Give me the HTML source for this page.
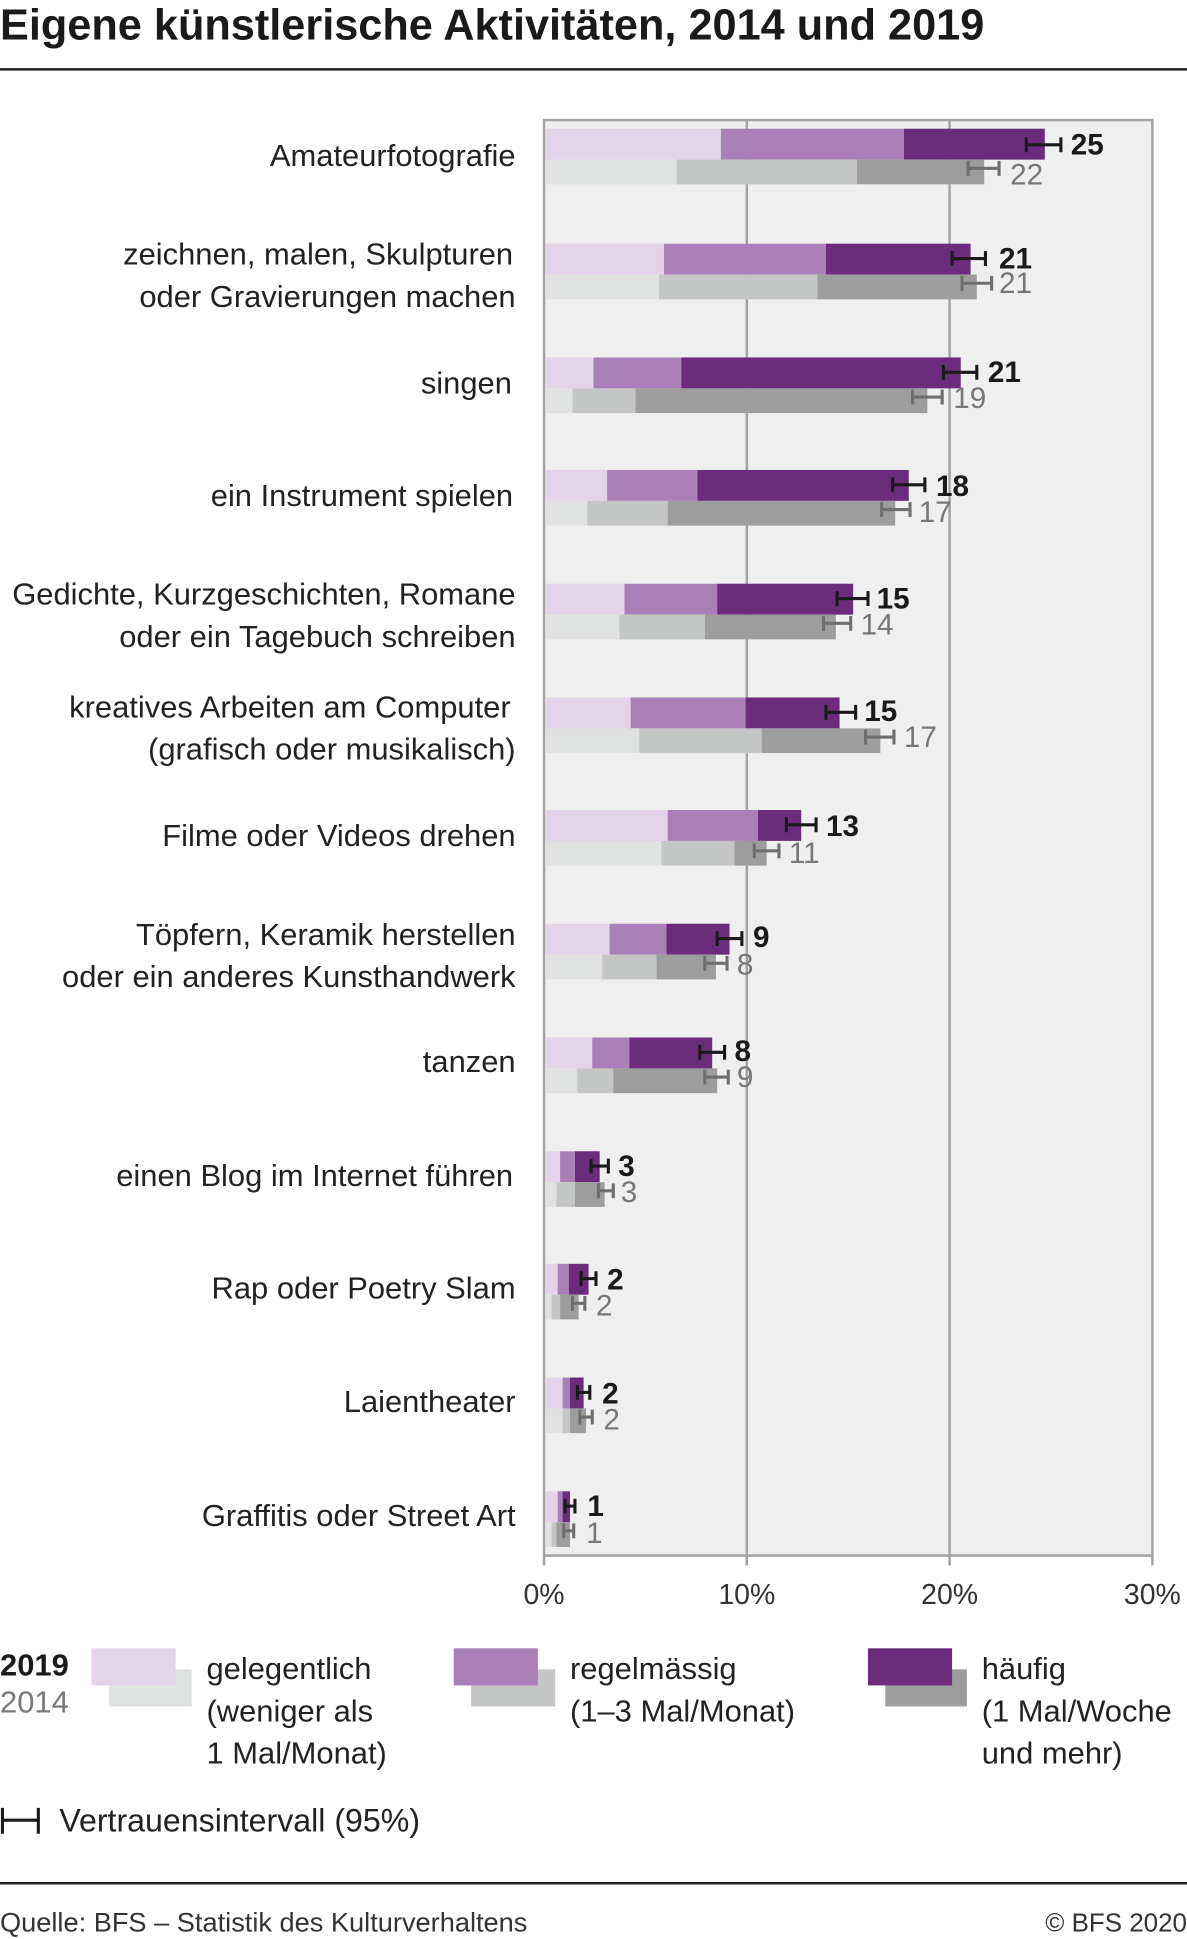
<!DOCTYPE html>
<html><head><meta charset="utf-8"><style>
html,body{margin:0;padding:0;background:#fff}
svg{display:block}
text{font-family:"Liberation Sans",sans-serif}
.lb{font-size:25px;fill:#222;text-anchor:end}
.v9{font-size:24px;font-weight:bold;fill:#1a1a1a}
.v4{font-size:24px;fill:#777}
.ax{font-size:23px;fill:#333;text-anchor:middle}
.lg{font-size:25px;fill:#222}
</style></head><body>
<svg width="1187" height="1939" viewBox="0 0 960 1568" xmlns="http://www.w3.org/2000/svg">
<text x="0" y="32" font-size="35" font-weight="bold" fill="#1a1a1a">Eigene künstlerische Aktivitäten, 2014 und 2019</text>
<rect x="0" y="55" width="960" height="2" fill="#222"/>
<rect x="440" y="97" width="492" height="1161" fill="#efefef" stroke="#a3a3a3" stroke-width="2"/>
<g stroke="#a3a3a3" stroke-width="2"><line x1="604" y1="97" x2="604" y2="1266"/><line x1="768" y1="97" x2="768" y2="1266"/><line x1="440" y1="1258" x2="440" y2="1266"/><line x1="932" y1="1258" x2="932" y2="1266"/></g>
<text class="ax" x="440" y="1297">0%</text><text class="ax" x="604" y="1297">10%</text><text class="ax" x="768" y="1297">20%</text><text class="ax" x="932" y="1297">30%</text>

<g id="bars">
<rect x="441" y="104" width="142" height="25" fill="#e2d3e8"/><rect x="583" y="104" width="148" height="25" fill="#aa7fb7"/><rect x="731" y="104" width="114" height="25" fill="#6b2c7c"/>
<rect x="441" y="129" width="106" height="20" fill="#e0e1e1"/><rect x="547" y="129" width="146" height="20" fill="#c4c5c5"/><rect x="693" y="129" width="103" height="20" fill="#9d9d9d"/>
<rect x="441" y="197" width="96" height="25" fill="#e2d3e8"/><rect x="537" y="197" width="131" height="25" fill="#aa7fb7"/><rect x="668" y="197" width="117" height="25" fill="#6b2c7c"/>
<rect x="441" y="222" width="92" height="20" fill="#e0e1e1"/><rect x="533" y="222" width="128" height="20" fill="#c4c5c5"/><rect x="661" y="222" width="129" height="20" fill="#9d9d9d"/>
<rect x="441" y="289" width="39" height="25" fill="#e2d3e8"/><rect x="480" y="289" width="71" height="25" fill="#aa7fb7"/><rect x="551" y="289" width="226" height="25" fill="#6b2c7c"/>
<rect x="441" y="314" width="22" height="20" fill="#e0e1e1"/><rect x="463" y="314" width="51" height="20" fill="#c4c5c5"/><rect x="514" y="314" width="236" height="20" fill="#9d9d9d"/>
<rect x="441" y="380" width="50" height="25" fill="#e2d3e8"/><rect x="491" y="380" width="73" height="25" fill="#aa7fb7"/><rect x="564" y="380" width="171" height="25" fill="#6b2c7c"/>
<rect x="441" y="405" width="34" height="20" fill="#e0e1e1"/><rect x="475" y="405" width="65" height="20" fill="#c4c5c5"/><rect x="540" y="405" width="184" height="20" fill="#9d9d9d"/>
<rect x="441" y="472" width="64" height="25" fill="#e2d3e8"/><rect x="505" y="472" width="75" height="25" fill="#aa7fb7"/><rect x="580" y="472" width="110" height="25" fill="#6b2c7c"/>
<rect x="441" y="497" width="60" height="20" fill="#e0e1e1"/><rect x="501" y="497" width="69" height="20" fill="#c4c5c5"/><rect x="570" y="497" width="106" height="20" fill="#9d9d9d"/>
<rect x="441" y="564" width="69" height="25" fill="#e2d3e8"/><rect x="510" y="564" width="93" height="25" fill="#aa7fb7"/><rect x="603" y="564" width="76" height="25" fill="#6b2c7c"/>
<rect x="441" y="589" width="76" height="20" fill="#e0e1e1"/><rect x="517" y="589" width="99" height="20" fill="#c4c5c5"/><rect x="616" y="589" width="96" height="20" fill="#9d9d9d"/>
<rect x="441" y="655" width="99" height="25" fill="#e2d3e8"/><rect x="540" y="655" width="73" height="25" fill="#aa7fb7"/><rect x="613" y="655" width="35" height="25" fill="#6b2c7c"/>
<rect x="441" y="680" width="94" height="20" fill="#e0e1e1"/><rect x="535" y="680" width="59" height="20" fill="#c4c5c5"/><rect x="594" y="680" width="26" height="20" fill="#9d9d9d"/>
<rect x="441" y="747" width="52" height="25" fill="#e2d3e8"/><rect x="493" y="747" width="46" height="25" fill="#aa7fb7"/><rect x="539" y="747" width="51" height="25" fill="#6b2c7c"/>
<rect x="441" y="772" width="46" height="20" fill="#e0e1e1"/><rect x="487" y="772" width="44" height="20" fill="#c4c5c5"/><rect x="531" y="772" width="48" height="20" fill="#9d9d9d"/>
<rect x="441" y="839" width="38" height="25" fill="#e2d3e8"/><rect x="479" y="839" width="30" height="25" fill="#aa7fb7"/><rect x="509" y="839" width="67" height="25" fill="#6b2c7c"/>
<rect x="441" y="864" width="26" height="20" fill="#e0e1e1"/><rect x="467" y="864" width="29" height="20" fill="#c4c5c5"/><rect x="496" y="864" width="84" height="20" fill="#9d9d9d"/>
<rect x="441" y="931" width="12" height="25" fill="#e2d3e8"/><rect x="453" y="931" width="12" height="25" fill="#aa7fb7"/><rect x="465" y="931" width="20" height="25" fill="#6b2c7c"/>
<rect x="441" y="956" width="9" height="20" fill="#e0e1e1"/><rect x="450" y="956" width="15" height="20" fill="#c4c5c5"/><rect x="465" y="956" width="24" height="20" fill="#9d9d9d"/>
<rect x="441" y="1022" width="10" height="25" fill="#e2d3e8"/><rect x="451" y="1022" width="9" height="25" fill="#aa7fb7"/><rect x="460" y="1022" width="16" height="25" fill="#6b2c7c"/>
<rect x="441" y="1047" width="5" height="20" fill="#e0e1e1"/><rect x="446" y="1047" width="7" height="20" fill="#c4c5c5"/><rect x="453" y="1047" width="15" height="20" fill="#9d9d9d"/>
<rect x="441" y="1114" width="14" height="25" fill="#e2d3e8"/><rect x="455" y="1114" width="6" height="25" fill="#aa7fb7"/><rect x="461" y="1114" width="11" height="25" fill="#6b2c7c"/>
<rect x="441" y="1139" width="14" height="20" fill="#e0e1e1"/><rect x="455" y="1139" width="6" height="20" fill="#c4c5c5"/><rect x="461" y="1139" width="13" height="20" fill="#9d9d9d"/>
<rect x="441" y="1206" width="10" height="25" fill="#e2d3e8"/><rect x="451" y="1206" width="4" height="25" fill="#aa7fb7"/><rect x="455" y="1206" width="6" height="25" fill="#6b2c7c"/>
<rect x="441" y="1231" width="5" height="20" fill="#e0e1e1"/><rect x="446" y="1231" width="4" height="20" fill="#c4c5c5"/><rect x="450" y="1231" width="11" height="20" fill="#9d9d9d"/>
</g>

<g stroke="#1a1a1a" stroke-width="2.5" fill="none">
<path d="M830 117H858M830 111V123M858 111V123"/>
<path d="M770 209H797M770 203V215M797 203V215"/>
<path d="M763 301H790M763 295V307M790 295V307"/>
<path d="M722 392H748M722 386V398M748 386V398"/>
<path d="M677 484H702M677 478V490M702 478V490"/>
<path d="M668 576H692M668 570V582M692 570V582"/>
<path d="M636 667H660M636 661V673M660 661V673"/>
<path d="M580 759H600M580 753V765M600 753V765"/>
<path d="M566 851H586M566 845V857M586 845V857"/>
<path d="M478 943H492M478 937V949M492 937V949"/>
<path d="M470 1034H482M470 1028V1040M482 1028V1040"/>
<path d="M467 1126H477M467 1120V1132M477 1120V1132"/>
<path d="M457 1218H465M457 1212V1224M465 1212V1224"/>
</g>
<g stroke="#6e6e6e" stroke-width="2.5" fill="none">
<path d="M783 136H808M783 130V142M808 130V142"/>
<path d="M778 229H802M778 223V235M802 223V235"/>
<path d="M738 321H762M738 315V327M762 315V327"/>
<path d="M713 412H736M713 406V418M736 406V418"/>
<path d="M666 504H688M666 498V510M688 498V510"/>
<path d="M700 596H723M700 590V602M723 590V602"/>
<path d="M610 688H630M610 682V694M630 682V694"/>
<path d="M570 779H588M570 773V785M588 773V785"/>
<path d="M570 871H589M570 865V877M589 865V877"/>
<path d="M484 963H496M484 957V969M496 957V969"/>
<path d="M463 1054H473M463 1048V1060M473 1048V1060"/>
<path d="M469 1146H479M469 1140V1152M479 1140V1152"/>
<path d="M456 1238H464M456 1232V1244M464 1232V1244"/>
</g>

<g class="v9">
<text x="866" y="125">25</text><text x="808" y="217">21</text><text x="799" y="309">21</text><text x="757" y="401">18</text>
<text x="709" y="492">15</text><text x="699" y="583">15</text><text x="668" y="676">13</text><text x="609" y="766">9</text>
<text x="594" y="858">8</text><text x="500" y="951">3</text><text x="491" y="1043">2</text><text x="487" y="1135">2</text><text x="475" y="1226">1</text>
</g>
<g class="v4">
<text x="817" y="149">22</text><text x="808" y="237">21</text><text x="771" y="330">19</text><text x="743" y="422">17</text>
<text x="696" y="513">14</text><text x="731" y="604">17</text><text x="638" y="698">11</text><text x="596" y="788">8</text>
<text x="596" y="879">9</text><text x="502" y="972">3</text><text x="482" y="1064">2</text><text x="488" y="1156">2</text><text x="474" y="1248">1</text>
</g>

<g class="lb">
<text x="417" y="134">Amateurfotografie</text>
<text x="415" y="214">zeichnen, malen, Skulpturen</text><text x="417" y="248">oder Gravierungen machen</text>
<text x="414" y="318">singen</text>
<text x="415" y="409">ein Instrument spielen</text>
<text x="417" y="489">Gedichte, Kurzgeschichten, Romane</text><text x="417" y="523">oder ein Tagebuch schreiben</text>
<text x="413" y="580">kreatives Arbeiten am Computer</text><text x="417" y="614">(grafisch oder musikalisch)</text>
<text x="417" y="684">Filme oder Videos drehen</text>
<text x="417" y="764">Töpfern, Keramik herstellen</text><text x="417" y="798">oder ein anderes Kunsthandwerk</text>
<text x="417" y="867">tanzen</text>
<text x="415" y="959">einen Blog im Internet führen</text>
<text x="417" y="1050">Rap oder Poetry Slam</text>
<text x="417" y="1142">Laientheater</text>
<text x="417" y="1234">Graffitis oder Street Art</text>
</g>

<text x="0" y="1355" font-size="25" font-weight="bold" fill="#1a1a1a">2019</text>
<text x="0" y="1385" font-size="25" fill="#777">2014</text>
<rect x="88" y="1350" width="67" height="30" fill="#e0e1e1"/><rect x="74" y="1333" width="68" height="30" fill="#e2d3e8"/>
<rect x="381" y="1350" width="68" height="30" fill="#c4c5c5"/><rect x="367" y="1333" width="68" height="30" fill="#aa7fb7"/>
<rect x="716" y="1350" width="66" height="30" fill="#9d9d9d"/><rect x="702" y="1333" width="68" height="30" fill="#6b2c7c"/>
<g class="lg">
<text x="167" y="1358">gelegentlich</text><text x="167" y="1392">(weniger als</text><text x="167" y="1426">1 Mal/Monat)</text>
<text x="461" y="1358">regelmässig</text><text x="461" y="1392">(1–3 Mal/Monat)</text>
<text x="794" y="1358">häufig</text><text x="794" y="1392">(1 Mal/Woche</text><text x="794" y="1426">und mehr)</text>
<text x="48" y="1481" font-size="26">Vertrauensintervall (95%)</text>
</g>
<path d="M2 1472H31M2 1462V1483M31 1462V1483" stroke="#1a1a1a" stroke-width="2.5" fill="none"/>
<rect x="0" y="1522" width="960" height="2" fill="#222"/>
<text x="0" y="1562" font-size="22" fill="#333">Quelle: BFS – Statistik des Kulturverhaltens</text>
<text x="960" y="1562" font-size="21" fill="#333" text-anchor="end">© BFS 2020</text>
</svg>
</body></html>
